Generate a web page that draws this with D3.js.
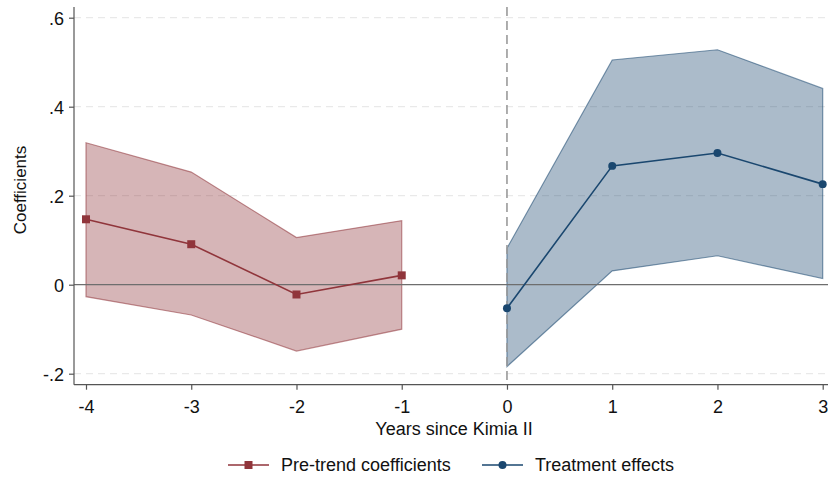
<!DOCTYPE html>
<html><head><meta charset="utf-8">
<script src="https://cdn.jsdelivr.net/npm/d3@7"></script>
<style>body{margin:0;background:#fff}svg{display:block;font-family:"Liberation Sans",Arial,sans-serif}</style>
</head><body><svg id="c" width="830" height="478"></svg>
<script>
const preYears = [-4, -3, -2, -1];
const preCoef = [0.147, 0.091, -0.022, 0.021];
const preUpper = [0.319, 0.253, 0.106, 0.144];
const preLower = [-0.027, -0.068, -0.149, -0.100];
const postYears = [0, 1, 2, 3];
const postCoef = [-0.053, 0.267, 0.296, 0.226];
const postUpper = [0.082, 0.505, 0.528, 0.441];
const postLower = [-0.184, 0.031, 0.065, 0.014];
const xTicks = [-4, -3, -2, -1, 0, 1, 2, 3];
const yTicks = [-0.2, 0, 0.2, 0.4, 0.6];
const yTickLabels = ["-.2", "0", ".2", ".4", ".6"];

(function () {
const svg = d3.select("#c");
const red = "#90353b", blue = "#1a476f";
const x = d3.scaleLinear().domain([-4, 3]).range([86, 822.7]);
const y = d3.scaleLinear().domain([-0.2, 0.6]).range([373.7, 17.7]);
const pL = 74, pB = 384.7, pT = 7, pR = 828;
const FS = 18;

// gridlines
svg.append("g").selectAll("line").data(yTicks.filter(d => d !== 0)).join("line")
  .attr("x1", pL).attr("x2", pR).attr("y1", d => y(d)).attr("y2", d => y(d))
  .attr("stroke", "#e4e4e4").attr("stroke-width", 1).attr("stroke-dasharray", "7,5");

function band(xs, lo, hi, col) {
  const data = xs.map((v, i) => ({x: v, lo: lo[i], hi: hi[i]}));
  svg.append("path").datum(data)
    .attr("d", d3.area().x(d => x(d.x)).y0(d => y(d.lo)).y1(d => y(d.hi)))
    .attr("fill", col).attr("fill-opacity", 0.37)
    .attr("stroke", col).attr("stroke-opacity", 0.55).attr("stroke-width", 1.2);
}
band(preYears, preLower, preUpper, red);
band(postYears, postLower, postUpper, blue);

// zero line
svg.append("line").attr("x1", pL).attr("x2", pR).attr("y1", y(0)).attr("y2", y(0))
  .attr("stroke", "#6e6e6e").attr("stroke-width", 1.2);
// vertical dashed line at 0
svg.append("line").attr("x1", x(0)).attr("x2", x(0)).attr("y1", pT).attr("y2", pB)
  .attr("stroke", "#9a9a9a").attr("stroke-width", 1.6).attr("stroke-dasharray", "9,5");

function series(xs, vs, col, shape) {
  const data = xs.map((v, i) => ({x: v, v: vs[i]}));
  svg.append("path").datum(data)
    .attr("d", d3.line().x(d => x(d.x)).y(d => y(d.v)))
    .attr("fill", "none").attr("stroke", col).attr("stroke-width", 1.6);
  const sym = d3.symbol().type(shape === "sq" ? d3.symbolSquare : d3.symbolCircle).size(shape === "sq" ? 64 : 50);
  svg.append("g").selectAll("path").data(data).join("path")
    .attr("transform", d => `translate(${x(d.x)},${y(d.v)})`)
    .attr("d", sym).attr("fill", col);
}
series(preYears, preCoef, red, "sq");
series(postYears, postCoef, blue, "ci");

// axes
const ax = svg.append("g").attr("transform", `translate(0,${pB})`)
  .call(d3.axisBottom(x).tickValues(xTicks).tickFormat(d => String(d)).tickSize(5).tickSizeOuter(0));
const ay = svg.append("g").attr("transform", `translate(${pL},0)`)
  .call(d3.axisLeft(y).tickValues(yTicks).tickFormat((d, i) => yTickLabels[i]).tickSize(5).tickSizeOuter(0));
ax.select(".domain").attr("d", `M${pL},0H${pR}`);
ay.select(".domain").attr("d", `M0,${pT}V${pB}`);
[ax, ay].forEach(a => {
  a.selectAll(".domain").attr("stroke", "#555").attr("stroke-width", 1.2);
  a.selectAll(".tick line").attr("stroke", "#555").attr("stroke-width", 1.2);
  a.selectAll("text").attr("font-size", FS).attr("fill", "#111").attr("font-family", "Liberation Sans, Arial, sans-serif");
});
ax.selectAll("text").attr("y", 28).attr("dy", null);
ay.selectAll("text").attr("dx", "-2").attr("dy", "0.36em");

svg.append("text").attr("x", 454).attr("y", 435).attr("text-anchor", "middle")
  .attr("font-size", FS).attr("fill", "#111").text("Years since Kimia II");
svg.append("text").attr("transform", "translate(25.5,190) rotate(-90)").attr("text-anchor", "middle")
  .attr("font-size", 17).attr("fill", "#111").text("Coefficients");

// legend
const leg = [{label: "Pre-trend coefficients", col: red, s: d3.symbolSquare, sz: 64, x: 228},
             {label: "Treatment effects", col: blue, s: d3.symbolCircle, sz: 50, x: 482}];
const lg = svg.append("g").selectAll("g").data(leg).join("g").attr("transform", d => `translate(${d.x},465)`);
lg.append("line").attr("x1", 0).attr("x2", 41).attr("stroke", d => d.col).attr("stroke-width", 1.6);
lg.append("path").attr("transform", "translate(20.5,0)").attr("d", d => d3.symbol().type(d.s).size(d.sz)()).attr("fill", d => d.col);
lg.append("text").attr("x", 53).attr("y", 6).attr("font-size", FS).attr("fill", "#111").text(d => d.label);
})();
</script></body></html>
